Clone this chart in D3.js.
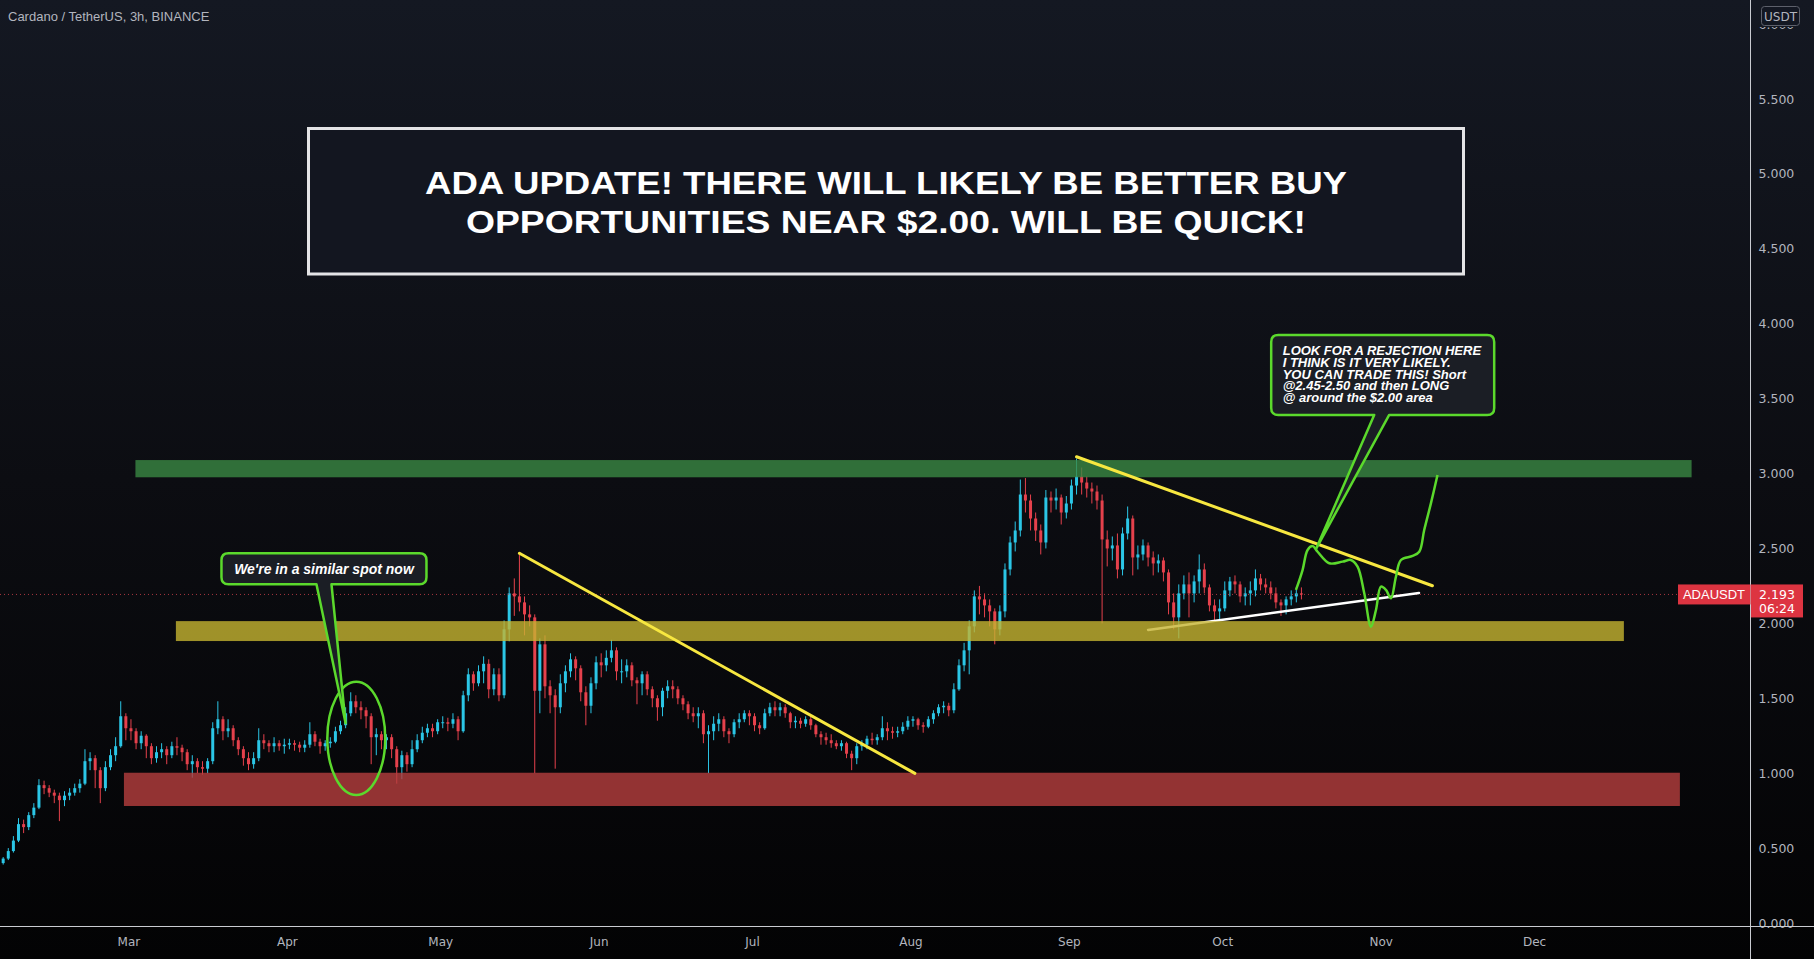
<!DOCTYPE html>
<html>
<head>
<meta charset="utf-8">
<title>ADA / USDT 3h</title>
<script src="https://cdn.jsdelivr.net/npm/d3@7"></script>
<style>
  body { margin: 0; background: #0b0d12; overflow: hidden; }
  svg { display: block; }
</style>
</head>
<body>
<div id="chart"></div>
<script>
var svgWidth = 1814;
var svgHeight = 959;

// ---------- data (one candle per day) ----------
var firstDay = "2021-02-04";
var firstOpen = 0.40;

var closes = [
  // Feb 4 - 28
  0.43,0.48,0.55,0.66,0.64,0.72,0.77,0.92,0.90,0.87,0.85,0.82,0.85,0.87,0.90,0.93,1.08,1.10,1.02,0.90,1.04,1.12,1.18,1.38,1.30,
  // Mar
  1.28,1.20,1.25,1.18,1.10,1.14,1.16,1.12,1.18,1.17,1.14,1.06,1.08,1.04,1.03,1.08,1.30,1.36,1.28,1.30,1.22,1.16,1.10,1.06,1.10,1.22,1.20,1.18,1.20,1.18,1.19,
  // Apr
  1.20,1.19,1.17,1.19,1.26,1.21,1.18,1.20,1.21,1.28,1.32,1.40,1.48,1.44,1.42,1.38,1.24,1.26,1.22,1.24,1.16,1.04,1.12,1.06,1.16,1.22,1.27,1.30,1.28,1.34,
  // May
  1.34,1.33,1.36,1.28,1.52,1.66,1.60,1.68,1.73,1.56,1.66,1.52,1.96,2.20,2.18,2.14,2.06,2.04,1.55,1.86,1.58,1.52,1.44,1.60,1.68,1.76,1.70,1.54,1.45,1.60,1.74,
  // Jun
  1.72,1.77,1.82,1.68,1.68,1.72,1.62,1.60,1.66,1.56,1.50,1.44,1.55,1.58,1.56,1.50,1.46,1.40,1.38,1.40,1.26,1.28,1.33,1.36,1.28,1.26,1.34,1.36,1.40,1.38,
  // Jul
  1.32,1.30,1.40,1.44,1.42,1.44,1.40,1.34,1.35,1.33,1.36,1.32,1.26,1.24,1.22,1.20,1.18,1.20,1.13,1.10,1.18,1.19,1.23,1.22,1.24,1.30,1.28,1.27,1.28,1.31,1.35,
  // Aug
  1.36,1.32,1.31,1.36,1.40,1.44,1.45,1.42,1.56,1.72,1.82,1.98,2.18,2.16,2.12,2.08,1.96,2.08,2.36,2.54,2.62,2.86,2.82,2.70,2.62,2.54,2.84,2.82,2.84,2.74,2.80,
  // Sep
  2.92,2.98,2.94,2.90,2.88,2.82,2.56,2.50,2.52,2.36,2.60,2.70,2.44,2.46,2.52,2.44,2.40,2.42,2.34,2.14,2.04,2.20,2.26,2.20,2.28,2.36,2.24,2.12,2.08,2.10,
  // Oct 1 - 16
  2.22,2.28,2.26,2.18,2.20,2.22,2.30,2.26,2.24,2.20,2.14,2.12,2.16,2.18,2.20,2.193
];

var highs = [
  0.44,0.50,0.58,0.70,0.69,0.74,0.80,0.96,0.95,0.92,0.89,0.87,0.88,0.90,0.93,0.96,1.16,1.14,1.12,1.04,1.08,1.16,1.24,1.48,1.40,
  1.36,1.30,1.28,1.26,1.20,1.18,1.20,1.18,1.21,1.24,1.19,1.16,1.12,1.10,1.08,1.10,1.34,1.48,1.38,1.36,1.32,1.24,1.18,1.14,1.14,1.30,1.26,1.22,1.24,1.22,1.23,
  1.23,1.22,1.21,1.22,1.34,1.28,1.23,1.22,1.24,1.31,1.35,1.44,1.54,1.52,1.48,1.44,1.40,1.30,1.28,1.26,1.26,1.18,1.15,1.14,1.22,1.26,1.31,1.33,1.33,1.36,
  1.38,1.37,1.40,1.38,1.55,1.70,1.68,1.72,1.78,1.76,1.70,1.70,2.02,2.24,2.30,2.47,2.18,2.12,2.06,1.90,1.92,1.62,1.56,1.66,1.72,1.80,1.78,1.72,1.58,1.64,1.78,
  1.80,1.82,1.89,1.84,1.76,1.76,1.74,1.64,1.68,1.68,1.58,1.52,1.57,1.62,1.62,1.58,1.52,1.48,1.44,1.44,1.42,1.32,1.38,1.40,1.38,1.30,1.36,1.40,1.42,1.42,
  1.40,1.34,1.43,1.47,1.48,1.47,1.46,1.41,1.38,1.37,1.38,1.38,1.33,1.28,1.27,1.26,1.22,1.22,1.21,1.15,1.20,1.22,1.25,1.27,1.26,1.38,1.34,1.31,1.31,1.34,1.38,
  1.38,1.37,1.34,1.38,1.42,1.46,1.48,1.47,1.60,1.76,1.87,2.02,2.22,2.25,2.20,2.16,2.10,2.12,2.40,2.58,2.68,2.96,2.97,2.86,2.74,2.66,2.89,2.88,2.90,2.86,2.85,
  2.96,3.10,3.04,2.98,2.94,2.92,2.86,2.62,2.58,2.60,2.64,2.78,2.72,2.52,2.56,2.54,2.48,2.46,2.44,2.36,2.20,2.26,2.32,2.34,2.32,2.46,2.40,2.26,2.16,2.16,
  2.28,2.31,2.32,2.28,2.24,2.28,2.36,2.33,2.30,2.28,2.24,2.16,2.18,2.22,2.24,2.24
];

var lows = [
  0.39,0.42,0.47,0.54,0.60,0.62,0.70,0.76,0.86,0.84,0.80,0.68,0.78,0.82,0.85,0.87,0.92,1.02,0.90,0.80,0.88,1.02,1.08,1.17,1.22,
  1.22,1.16,1.16,1.10,1.06,1.07,1.10,1.06,1.10,1.12,1.08,1.02,0.97,1.00,0.99,1.00,1.06,1.26,1.22,1.24,1.18,1.12,1.05,1.02,1.03,1.08,1.16,1.14,1.14,1.15,1.13,
  1.16,1.15,1.14,1.14,1.17,1.18,1.13,1.15,1.17,1.20,1.26,1.30,1.38,1.40,1.36,1.30,1.06,1.12,1.16,1.16,1.10,0.93,0.96,1.01,1.04,1.14,1.20,1.24,1.24,1.26,
  1.30,1.28,1.30,1.22,1.27,1.48,1.55,1.58,1.60,1.50,1.52,1.48,1.50,1.88,2.05,2.08,1.92,1.98,1.00,1.40,1.50,1.40,1.03,1.40,1.54,1.64,1.62,1.48,1.32,1.40,1.56,
  1.64,1.68,1.74,1.62,1.60,1.64,1.58,1.46,1.52,1.52,1.44,1.35,1.38,1.50,1.50,1.46,1.42,1.36,1.34,1.30,1.20,1.00,1.22,1.28,1.24,1.20,1.24,1.30,1.34,1.32,
  1.28,1.26,1.29,1.38,1.38,1.38,1.37,1.30,1.30,1.30,1.31,1.29,1.24,1.19,1.19,1.17,1.16,1.15,1.10,1.02,1.06,1.15,1.16,1.19,1.19,1.22,1.22,1.23,1.24,1.26,1.29,
  1.31,1.29,1.27,1.30,1.33,1.38,1.40,1.38,1.40,1.55,1.68,1.66,1.94,2.06,2.04,1.98,1.86,1.92,2.04,2.32,2.48,2.58,2.74,2.62,2.55,2.46,2.50,2.74,2.76,2.66,2.70,
  2.76,2.86,2.86,2.84,2.80,2.76,2.00,2.38,2.42,2.30,2.32,2.56,2.32,2.36,2.42,2.38,2.32,2.34,2.28,2.06,1.96,1.90,2.16,2.04,2.14,2.20,2.20,2.08,2.02,2.02,
  2.08,2.18,2.20,2.14,2.12,2.12,2.18,2.22,2.20,2.16,2.10,2.05,2.06,2.12,2.14,2.16
];

var lastPrice = 2.193;
var barCountdown = "06:24";
var symbol = "ADAUSDT";
var quoteUnit = "USDT";
var chartTitle = "Cardano / TetherUS, 3h, BINANCE";

// axis ticks
var priceTicks = [0, 0.5, 1, 1.5, 2, 2.5, 3, 3.5, 4, 4.5, 5, 5.5, 6];
var monthTicks = ["2021-03-01","2021-04-01","2021-05-01","2021-06-01","2021-07-01",
                  "2021-08-01","2021-09-01","2021-10-01","2021-11-01","2021-12-01"];

// horizontal zones: resistance, support, demand
var zoneStart  = ["2021-03-02 09", "2021-03-10 07", "2021-02-28 03"];
var zoneEnd    = ["2021-12-31 20", "2021-12-18 14", "2021-12-29 13"];
var zoneTop    = [3.09, 2.015, 1.003];
var zoneBottom = [2.975, 1.882, 0.781];

// yellow trend lines
var trendStart      = ["2021-05-16 12", "2021-09-02 12"];
var trendStartPrice = [2.468, 3.112];
var trendEnd        = ["2021-08-01 21", "2021-11-11 03"];
var trendEndPrice   = [0.999, 2.251];

// rising support line
var supportStart = "2021-09-16 12", supportStartPrice = 1.956;
var supportEnd   = "2021-11-08 12", supportEndPrice   = 2.203;

// projected path (days after Oct 1, price)
var projDay   = [14.43,15.72,16.70,17.68,18.66,20.95,23.55,25.19,26.48,27.79,29.10,
                 30.08,31.06,32.04,33.01,33.99,34.97,37.24,38.55,39.52,40.83,42.12];
var projPrice = [2.223,2.356,2.490,2.516,2.478,2.401,2.412,2.423,2.378,2.201,1.978,
                 2.089,2.245,2.223,2.167,2.311,2.423,2.450,2.478,2.623,2.801,2.990];

// circled area in April
var circleCenter = "2021-04-14 14", circlePrice = 1.233;
var circleHalfDays = 5.7, circleHalfPrice = 0.378;

// callouts
var calloutLines = [
  ["We're in a similar spot now"],
  ["LOOK FOR A REJECTION HERE", "I THINK IS IT VERY LIKELY.", "YOU CAN TRADE THIS! Short",
   "@2.45-2.50 and then LONG", "@ around the $2.00 area"]
];
var calloutBoxDate  = ["2021-03-19 05", "2021-10-10 14"];
var calloutBoxPrice = [2.468, 3.925];
var calloutTipDate  = ["2021-04-12 12", "2021-10-19 10"];
var calloutTipPrice = [1.333, 2.501];

var headline = ["ADA UPDATE! THERE WILL LIKELY BE BETTER BUY",
                "OPPORTUNITIES NEAR $2.00. WILL BE QUICK!"];

// ---------- drawing ----------
var plotRight = 1750.5;
var plotBottom = 927;
var lime = "#5bd92c";

var parseDay = d3.utcParse("%Y-%m-%d");
var parseHour = d3.utcParse("%Y-%m-%d %H");

var svg = d3.select("#chart").append("svg")
  .attr("width", svgWidth)
  .attr("height", svgHeight);

var defs = svg.append("defs");
var bg = defs.append("linearGradient").attr("id", "bg")
  .attr("x1", 0).attr("y1", 0).attr("x2", 0).attr("y2", 1);
bg.append("stop").attr("offset", "0%").attr("stop-color", "#141822");
bg.append("stop").attr("offset", "50%").attr("stop-color", "#0c0d12");
bg.append("stop").attr("offset", "100%").attr("stop-color", "#030304");

defs.append("clipPath").attr("id", "plot")
  .append("rect").attr("width", plotRight).attr("height", plotBottom);
// in the tick's own coordinates: keeps only what is below the unit badge
defs.append("clipPath").attr("id", "belowBadge")
  .append("rect").attr("x", 0).attr("y", 2.5).attr("width", 70).attr("height", 30);

svg.append("rect")
  .attr("width", svgWidth)
  .attr("height", svgHeight)
  .attr("fill", "url(#bg)");

var xScale = d3.scaleUtc()
  .domain([parseDay("2021-03-01"), parseDay("2021-12-01")])
  .range([128.4, 1534]);

var yScale = d3.scaleLinear()
  .domain([0, 5.5])
  .range([923, 99]);

var plot = svg.append("g").attr("clip-path", "url(#plot)");

// candles
var day0 = parseDay(firstDay);
var candles = closes.map(function(c, i) {
  var o = i === 0 ? firstOpen : closes[i - 1];
  return {
    date: d3.utcDay.offset(day0, i),
    open: o,
    close: c,
    high: Math.max(highs[i], o, c),
    low: Math.min(lows[i], o, c)
  };
});
var upColor = "#2bc6e6", downColor = "#e5414c";
var midX = d => xScale(d3.utcHour.offset(d.date, 12));

plot.selectAll("line.wick")
  .data(candles)
  .enter()
  .append("line")
  .attr("class", "wick")
  .attr("x1", midX).attr("x2", midX)
  .attr("y1", d => yScale(d.high))
  .attr("y2", d => yScale(d.low))
  .attr("stroke", d => d.close >= d.open ? upColor : downColor)
  .attr("stroke-width", 1);

plot.selectAll("rect.body")
  .data(candles)
  .enter()
  .append("rect")
  .attr("class", "body")
  .attr("x", d => midX(d) - 1.5)
  .attr("width", 3)
  .attr("y", d => yScale(Math.max(d.open, d.close)))
  .attr("height", d => Math.max(1, Math.abs(yScale(d.open) - yScale(d.close))))
  .attr("fill", d => d.close >= d.open ? upColor : downColor);

// last price dotted line
plot.append("line")
  .attr("x1", 0).attr("x2", plotRight)
  .attr("y1", yScale(lastPrice)).attr("y2", yScale(lastPrice))
  .attr("stroke", "#d9434f")
  .attr("stroke-opacity", 0.75)
  .attr("stroke-dasharray", "1,3");

// white rising line (sits under the zones)
plot.append("line")
  .attr("x1", xScale(parseHour(supportStart)))
  .attr("y1", yScale(supportStartPrice))
  .attr("x2", xScale(parseHour(supportEnd)))
  .attr("y2", yScale(supportEndPrice))
  .attr("stroke", "#ffffff")
  .attr("stroke-width", 2.5)
  .attr("stroke-linecap", "round");

// zones
var zoneColors = ["#3a8843", "#c6b431", "#b63f3f"];
plot.selectAll("rect.zone")
  .data(zoneTop)
  .enter()
  .append("rect")
  .attr("class", "zone")
  .attr("x", (d, i) => xScale(parseHour(zoneStart[i])))
  .attr("width", (d, i) => xScale(parseHour(zoneEnd[i])) - xScale(parseHour(zoneStart[i])))
  .attr("y", d => yScale(d))
  .attr("height", (d, i) => yScale(zoneBottom[i]) - yScale(d))
  .attr("fill", (d, i) => zoneColors[i])
  .attr("fill-opacity", 0.8);

// yellow trend lines
plot.selectAll("line.trend")
  .data(trendStart)
  .enter()
  .append("line")
  .attr("class", "trend")
  .attr("x1", d => xScale(parseHour(d)))
  .attr("y1", (d, i) => yScale(trendStartPrice[i]))
  .attr("x2", (d, i) => xScale(parseHour(trendEnd[i])))
  .attr("y2", (d, i) => yScale(trendEndPrice[i]))
  .attr("stroke", "#f7e740")
  .attr("stroke-width", 3)
  .attr("stroke-linecap", "round");

// projected path
var oct1 = parseDay("2021-10-01");
var projLine = d3.line()
  .x((d, i) => xScale(d3.utcMinute.offset(oct1, Math.round(projDay[i] * 1440))))
  .y(d => yScale(d))
  .curve(d3.curveCatmullRom.alpha(0.5));
plot.append("path")
  .datum(projPrice)
  .attr("d", projLine)
  .attr("fill", "none")
  .attr("stroke", lime)
  .attr("stroke-width", 2.5);

// circle in April
var cx = xScale(parseHour(circleCenter));
var cy = yScale(circlePrice);
plot.append("ellipse")
  .attr("cx", cx).attr("cy", cy)
  .attr("rx", xScale(d3.utcHour.offset(parseHour(circleCenter), circleHalfDays * 24)) - cx)
  .attr("ry", yScale(circlePrice - circleHalfPrice) - cy)
  .attr("fill", "none")
  .attr("stroke", lime)
  .attr("stroke-width", 2.5);

// callouts
var boxSize = [[205, 31], [223, 80]];
var tailBase = [[95, 110], [103, 118]];
function calloutPath(x, y, w, h, r, b1, b2, tx, ty) {
  return "M" + (x + r) + "," + y +
    "H" + (x + w - r) + "Q" + (x + w) + "," + y + " " + (x + w) + "," + (y + r) +
    "V" + (y + h - r) + "Q" + (x + w) + "," + (y + h) + " " + (x + w - r) + "," + (y + h) +
    "H" + (x + b2) + "L" + tx + "," + ty + "L" + (x + b1) + "," + (y + h) +
    "H" + (x + r) + "Q" + x + "," + (y + h) + " " + x + "," + (y + h - r) +
    "V" + (y + r) + "Q" + x + "," + y + " " + (x + r) + "," + y + "Z";
}
calloutLines.forEach(function(lines, i) {
  var bx = xScale(parseHour(calloutBoxDate[i]));
  var by = yScale(calloutBoxPrice[i]);
  var w = boxSize[i][0], h = boxSize[i][1];
  plot.append("path")
    .attr("d", calloutPath(bx, by, w, h, 7, tailBase[i][0], tailBase[i][1],
      xScale(parseHour(calloutTipDate[i])), yScale(calloutTipPrice[i])))
    .attr("fill", "#1b1e25")
    .attr("stroke", lime)
    .attr("stroke-width", 2.5)
    .attr("stroke-linejoin", "round");
  var t = plot.append("text")
    .attr("fill", "#ffffff")
    .attr("font-family", "Liberation Sans, Arial, sans-serif")
    .attr("font-weight", "bold")
    .attr("font-style", "italic");
  if (lines.length === 1) {
    t.attr("x", bx + w / 2).attr("y", by + 20.5)
      .attr("text-anchor", "middle").attr("font-size", "14px")
      .text(lines[0]);
  } else {
    t.attr("font-size", "13px");
    t.selectAll("tspan").data(lines).enter().append("tspan")
      .attr("x", bx + 11.5)
      .attr("y", (d, k) => by + 20 + k * 11.8)
      .text(d => d);
  }
});

// headline box
svg.append("rect")
  .attr("x", 308.5).attr("y", 128.5)
  .attr("width", 1155).attr("height", 145.5)
  .attr("fill", "#131620")
  .attr("stroke", "#e4e4e6")
  .attr("stroke-width", 3);
svg.selectAll("text.headline")
  .data(headline)
  .enter()
  .append("text")
  .attr("class", "headline")
  .attr("x", 886)
  .attr("y", (d, i) => 194 + i * 39)
  .attr("text-anchor", "middle")
  .attr("font-family", "Liberation Sans, Arial, sans-serif")
  .attr("font-weight", "bold")
  .attr("font-size", "32px")
  .attr("fill", "#ffffff")
  .attr("textLength", (d, i) => i === 0 ? 922 : 840)
  .attr("lengthAdjust", "spacingAndGlyphs")
  .text(d => d);

// top-left legend
svg.append("text")
  .attr("x", 8).attr("y", 21)
  .attr("font-family", "Liberation Sans, Arial, sans-serif")
  .attr("font-size", "13px")
  .attr("fill", "#b2b5be")
  .text(chartTitle);

// axes
var axisColor = "#b2b5be";
var yAxis = d3.axisRight(yScale)
  .tickValues(priceTicks)
  .tickFormat(d3.format(".3f"))
  .tickSize(0)
  .tickPadding(8);
var yAxisG = svg.append("g")
  .attr("transform", `translate(${plotRight}, 0)`)
  .call(yAxis);
yAxisG.select(".domain").remove();
yAxisG.selectAll("text")
  .attr("fill", axisColor)
  .attr("font-family", "DejaVu Sans, sans-serif")
  .attr("font-size", "12.5px");
// the top label is mostly hidden behind the unit badge
yAxisG.selectAll(".tick")
  .filter(d => d === 6)
  .select("text")
  .attr("clip-path", "url(#belowBadge)");

var xAxis = d3.axisBottom(xScale)
  .tickValues(monthTicks.map(parseDay))
  .tickFormat(d3.utcFormat("%b"))
  .tickSize(0)
  .tickPadding(10);
var xAxisG = svg.append("g")
  .attr("transform", `translate(0, ${plotBottom})`)
  .call(xAxis);
xAxisG.select(".domain").remove();
xAxisG.selectAll("text")
  .attr("fill", axisColor)
  .attr("font-family", "DejaVu Sans, sans-serif")
  .attr("font-size", "12px");

svg.append("line")
  .attr("x1", plotRight).attr("x2", plotRight)
  .attr("y1", 0).attr("y2", svgHeight)
  .attr("stroke", "#c9cbd1").attr("stroke-width", 1);
svg.append("line")
  .attr("x1", 0).attr("x2", svgWidth)
  .attr("y1", plotBottom - 0.5).attr("y2", plotBottom - 0.5)
  .attr("stroke", "#c9cbd1").attr("stroke-width", 1);

// unit badge
svg.append("rect")
  .attr("x", 1761.5).attr("y", 6.5).attr("width", 38).attr("height", 19).attr("rx", 3)
  .attr("fill", "#131722").attr("stroke", "#5d606b");
svg.append("text")
  .attr("x", 1780.5).attr("y", 20.5)
  .attr("text-anchor", "middle")
  .attr("font-family", "DejaVu Sans, sans-serif")
  .attr("font-size", "12px")
  .attr("fill", axisColor)
  .text(quoteUnit);

// last price labels
var py = yScale(lastPrice);
var labelRed = "#dd3441";
svg.append("rect")
  .attr("x", 1678).attr("y", py - 10).attr("width", plotRight - 1678).attr("height", 20)
  .attr("fill", labelRed);
svg.append("text")
  .attr("x", 1714).attr("y", py + 5)
  .attr("text-anchor", "middle")
  .attr("font-family", "Liberation Sans, Arial, sans-serif")
  .attr("font-size", "13px")
  .attr("fill", "#ffffff")
  .text(symbol);
svg.append("rect")
  .attr("x", plotRight + 0.5).attr("y", py - 10).attr("width", 52).attr("height", 33)
  .attr("fill", labelRed);
svg.selectAll("text.pricelbl")
  .data([d3.format(".3f")(lastPrice), barCountdown])
  .enter()
  .append("text")
  .attr("class", "pricelbl")
  .attr("x", plotRight + 26.5)
  .attr("y", (d, i) => py + 4.5 + i * 14)
  .attr("text-anchor", "middle")
  .attr("font-family", "DejaVu Sans, sans-serif")
  .attr("font-size", "12.5px")
  .attr("fill", "#ffffff")
  .text(d => d);
</script>
</body>
</html>
